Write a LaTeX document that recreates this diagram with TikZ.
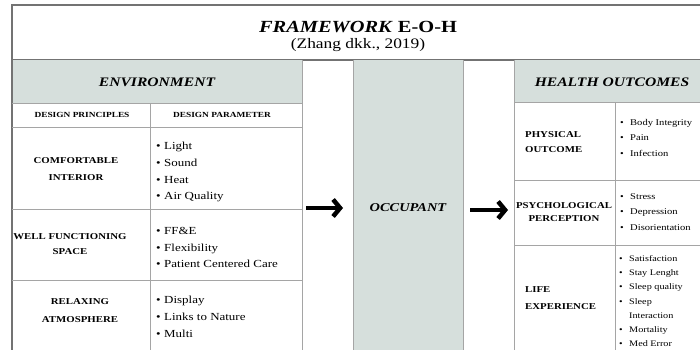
\documentclass[tikz,border=0pt]{standalone}
\usepackage{fontspec}
\setmainfont[FakeStretch=1.2]{Liberation Serif}
\usetikzlibrary{arrows.meta}
\definecolor{panel}{RGB}{214,223,220}
\definecolor{rulegray}{RGB}{165,165,165}
\definecolor{framegray}{RGB}{115,115,115}
\newcommand\itm{\makebox[8pt][l]{\textbullet}}
\newcommand\hitm{\makebox[10pt][l]{\textbullet}}
\tikzset{
  cellrule/.style={draw=rulegray, line width=0.7pt},
  framerule/.style={draw=framegray, line width=1.4pt},
  head/.style={font=\fontsize{13}{13}\selectfont\bfseries\itshape},
  caps/.style={font=\fontsize{9}{16}\selectfont\bfseries, align=center, inner sep=0pt},
  sub/.style={font=\fontsize{7.8}{8}\selectfont\bfseries, inner sep=0pt},
  items/.style={font=\fontsize{10.8}{16.7}\selectfont, align=left, anchor=north west, inner sep=0pt},
  hitems/.style={font=\fontsize{8.8}{15.5}\selectfont, align=left, anchor=north west, inner sep=0pt},
  litems/.style={font=\fontsize{8.5}{14.3}\selectfont, align=left, anchor=north west, inner sep=0pt},
  flow/.style={line width=4.5pt, -{Straight Barb[length=7pt,width=17pt]}}
}
\begin{document}
\begin{tikzpicture}[x=1pt,y=-1pt]
\useasboundingbox (0,0) rectangle (700,349);
\clip (0,0) rectangle (700,349);
\fill[white] (0,0) rectangle (700,349);

% title box
\draw[framerule] (12,5) rectangle (712,60);
\node (title) at (358,27) {\fontsize{17}{17}\selectfont\bfseries\textit{FRAMEWORK} E-O-H};
\node (cite) at (358,45) {\fontsize{14.5}{14.5}\selectfont(Zhang dkk., 2019)};

% environment table
\fill[panel] (12,60) rectangle (302,103);
\draw[framerule] (12,60) -- (12,360);
\draw[cellrule] (12,103) -- (302,103);
\draw[cellrule] (302,60) -- (302,360);
\draw[cellrule] (12,127) -- (302,127);
\draw[cellrule] (12,209) -- (302,209);
\draw[cellrule] (12,280) -- (302,280);
\draw[cellrule] (150,103) -- (150,360);
\node[head] (envhead) at (157,82) {ENVIRONMENT};
\node[sub] (dprin) at (82,115) {DESIGN PRINCIPLES};
\node[sub] (dpar) at (222,115) {DESIGN PARAMETER};

\node[caps, font=\fontsize{9}{17}\selectfont\bfseries] (comfort) at (76,169) {COMFORTABLE\\INTERIOR};
\node[items] (comfortlist) at (156,142) {\itm Light\\\itm Sound\\\itm Heat\\\itm Air Quality};

\node[caps, font=\fontsize{9}{15}\selectfont\bfseries] (wellspace) at (70,244) {WELL FUNCTIONING\\SPACE};
\node[items] (welllist) at (156,227) {\itm FF\&E\\\itm Flexibility\\\itm Patient Centered Care};

\node[caps, font=\fontsize{9}{18}\selectfont\bfseries] (relax) at (80,311) {RELAXING\\ATMOSPHERE};
\node[items] (relaxlist) at (156,296) {\itm Display\\\itm Links to Nature\\\itm Multi};

% occupant column
\fill[panel] (353,60) rectangle (463,360);
\draw[cellrule] (353,60) -- (353,360);
\draw[cellrule] (463,60) -- (463,360);
\node[font=\fontsize{12}{12}\selectfont\bfseries\itshape] (occupant) at (408,208) {OCCUPANT};

% health outcomes table
\fill[panel] (514,60) rectangle (712,102);
\draw[cellrule] (514,60) -- (514,360);
\draw[cellrule] (514,102) -- (712,102);
\draw[cellrule] (514,180) -- (712,180);
\draw[cellrule] (514,245) -- (712,245);
\draw[cellrule] (615,102) -- (615,360);
\node[head] (healthhead) at (612,82) {HEALTH OUTCOMES};

\node[caps, align=left, anchor=west, font=\fontsize{9}{15}\selectfont\bfseries] (physical) at (525,142) {PHYSICAL\\OUTCOME};
\node[hitems] (physlist) at (620,119) {\hitm Body Integrity\\\hitm Pain\\\hitm Infection};

\node[caps, font=\fontsize{9}{12.5}\selectfont\bfseries] (psych) at (564,212) {PSYCHOLOGICAL\\PERCEPTION};
\node[hitems] (psychlist) at (620,193) {\hitm Stress\\\hitm Depression\\\hitm Disorientation};

\node[caps, align=left, anchor=west, font=\fontsize{9}{17}\selectfont\bfseries] (life) at (525,298) {LIFE\\EXPERIENCE};
\node[litems] (lifelist) at (619,255) {\hitm Satisfaction\\\hitm Stay Lenght\\\hitm Sleep quality\\\hitm Sleep\\\hspace*{10pt}Interaction\\\hitm Mortality\\\hitm Med Error};

% flow arrows between the three blocks
\coordinate (a1s) at (306,208);
\coordinate (a1e) at (343,208);
\coordinate (a2s) at (470,210);
\coordinate (a2e) at (508,210);
\draw[flow] (a1s) -- (a1e);
\draw[flow] (a2s) -- (a2e);
\end{tikzpicture}
\end{document}
